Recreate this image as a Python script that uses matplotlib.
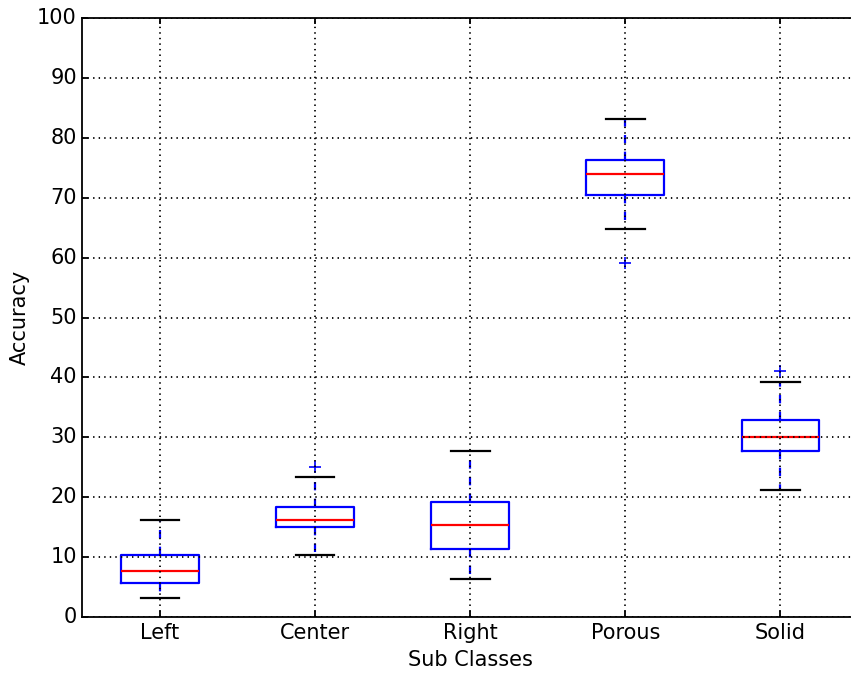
import matplotlib
matplotlib.use("Agg")
import matplotlib.pyplot as plt

plt.style.use("classic")
plt.rcParams["font.size"] = 15
plt.rcParams["axes.linewidth"] = 1.3
plt.rcParams["grid.linewidth"] = 1.3
plt.rcParams["xtick.major.width"] = 1.3
plt.rcParams["ytick.major.width"] = 1.3

classes = ["Left", "Center", "Right", "Porous", "Solid"]
whislo = [3.2, 10.35, 6.3, 64.8, 21.2]
q1 = [5.7, 15.0, 11.35, 70.5, 27.7]
med = [7.7, 16.2, 15.4, 74.0, 30.05]
q3 = [10.35, 18.4, 19.2, 76.3, 32.9]
whishi = [16.2, 23.4, 27.7, 83.1, 39.2]
fliers = [[], [25.0], [], [59.1], [41.1]]
yticks = list(range(0, 101, 10))

stats = []
for i in range(len(classes)):
    stats.append({"label": classes[i], "whislo": whislo[i], "q1": q1[i],
                  "med": med[i], "q3": q3[i], "whishi": whishi[i],
                  "fliers": fliers[i]})

fig = plt.figure(figsize=(8.51, 6.79), dpi=100, facecolor="white")
ax = fig.add_axes([0.0969, 0.0913, 0.9112, 0.8822])
lw = 1.6
ax.bxp(stats,
       boxprops=dict(color="blue", linewidth=lw),
       medianprops=dict(color="red", linewidth=lw),
       whiskerprops=dict(color="blue", linestyle="--", linewidth=lw),
       capprops=dict(color="black", linewidth=lw),
       flierprops=dict(marker="+", markeredgecolor="blue", markersize=8,
                       markeredgewidth=1.2, linestyle="none"))
ax.set_ylim(0, 100)
ax.set_yticks(yticks)
ax.set_xlim(0.5, 5.5)
ax.grid(True)
ax.set_xlabel("Sub Classes")
ax.set_ylabel("Accuracy")

fig.savefig("out.png", dpi=100, facecolor="white")
